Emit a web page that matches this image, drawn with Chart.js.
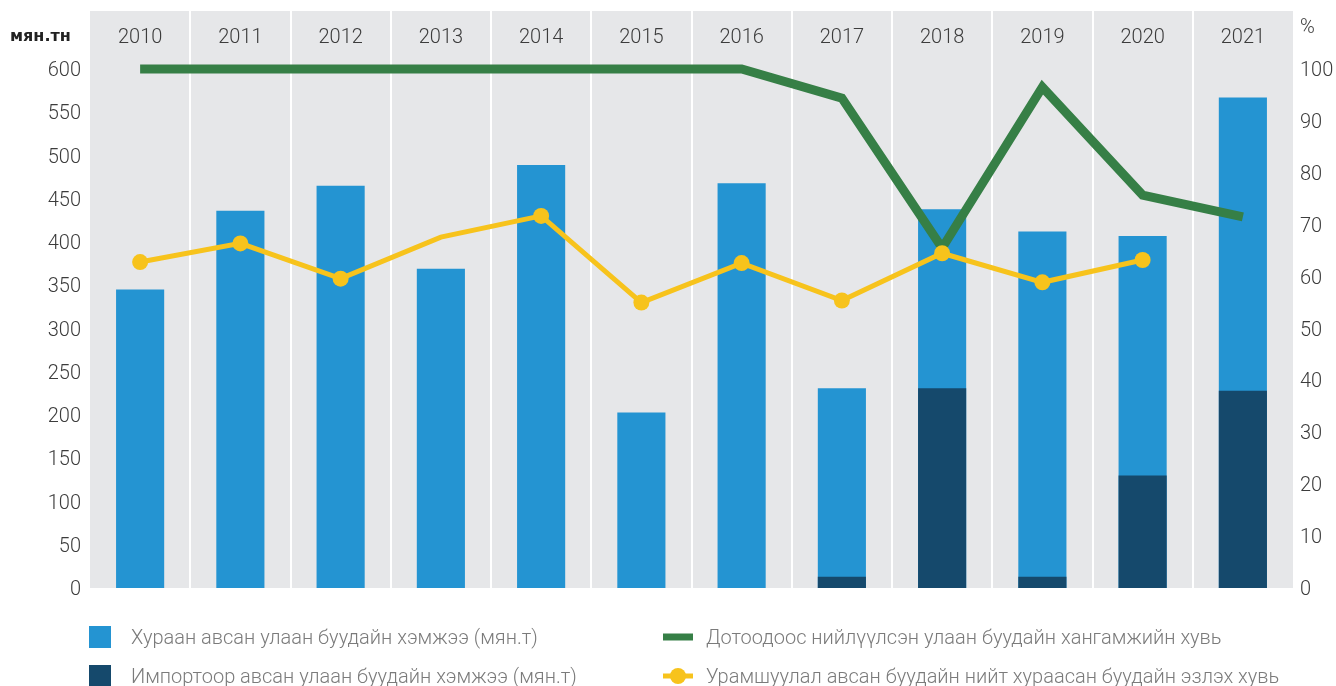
<!DOCTYPE html>
<html>
<head>
<meta charset="utf-8">
<script src="https://cdn.jsdelivr.net/npm/chart.js@4.4.1/dist/chart.umd.min.js"></script>
<style>
  html, body { margin: 0; padding: 0; background: #ffffff; }
  #wrap { position: relative; width: 1336px; height: 686px; }
</style>
</head>
<body>
<div id="wrap"><canvas id="c"></canvas></div>
<script>
// ---- data ----
const years = ['2010','2011','2012','2013','2014','2015','2016','2017','2018','2019','2020','2021'];
const harvestVolume = [345, 436, 465, 369, 489, 203, 468, 231, 438, 412, 407, 567];   // мян.т
const importVolume  = [0, 0, 0, 0, 0, 0, 0, 13, 231, 13, 130, 228];                   // мян.т
const domesticShare = [100, 100, 100, 100, 100, 100, 100, 94.4, 65.5, 96.5, 75.7, 71.5]; // %
const subsidyShare  = [62.8, 66.4, 59.6, 67.6, 71.7, 55.0, 62.6, 55.4, 64.5, 58.9, 63.2, null]; // %
const leftTicks  = [0, 50, 100, 150, 200, 250, 300, 350, 400, 450, 500, 550, 600];
const rightTicks = [0, 10, 20, 30, 40, 50, 60, 70, 80, 90, 100];
const leftUnit = 'мян.тн';
const rightUnit = '%';
const legendLabels = [
  'Хураан авсан улаан буудайн хэмжээ (мян.т)',
  'Импортоор авсан улаан буудайн хэмжээ (мян.т)',
  'Дотоодоос нийлүүлсэн улаан буудайн хангамжийн хувь',
  'Урамшуулал авсан буудайн нийт хураасан буудайн эзлэх хувь'
];

// ---- style ----
const C_BG = '#e6e7e9';
const C_BLUE = '#2494d2';
const C_NAVY = '#15496c';
const C_GREEN = '#367f46';
const C_YELLOW = '#f7c31c';
const C_TICK = '#3c3c3c';
const C_LEGEND = '#7b7b7b';
const FONT = 'Roboto';
const noMarkerYear = '2013';

const bgPlugin = {
  id: 'bgPlugin',
  beforeDraw(chart) {
    const ctx = chart.ctx, xs = chart.scales.x, ca = chart.chartArea;
    ctx.save();
    ctx.fillStyle = C_BG;
    ctx.fillRect(ca.left, xs.top, ca.right - ca.left, ca.bottom - xs.top);
    ctx.strokeStyle = '#ffffff';
    ctx.lineWidth = 2;
    for (let i = 1; i < years.length; i++) {
      const px = Math.round((xs.getPixelForValue(i - 1) + xs.getPixelForValue(i)) / 2);
      ctx.beginPath();
      ctx.moveTo(px, xs.top);
      ctx.lineTo(px, ca.bottom);
      ctx.stroke();
    }
    ctx.restore();
  },
  afterDraw(chart) {
    const ctx = chart.ctx;
    ctx.save();
    // unit labels
    ctx.fillStyle = '#222222';
    ctx.font = 'bold 16px "DejaVu Sans"';
    ctx.textAlign = 'left';
    ctx.textBaseline = 'alphabetic';
    ctx.fillText(leftUnit, 10, 41);
    ctx.fillStyle = C_TICK;
    ctx.font = '300 20px ' + FONT;
    ctx.textBaseline = 'middle';
    ctx.fillText(rightUnit, 1300, 28);

    // legend
    const rowY = [637, 676];
    const col1 = 89, col2 = 663;
    ctx.fillStyle = C_BLUE;
    ctx.fillRect(col1, rowY[0] - 11, 22, 22);
    ctx.fillStyle = C_NAVY;
    ctx.fillRect(col1, rowY[1] - 11, 22, 22);

    ctx.strokeStyle = C_GREEN;
    ctx.lineWidth = 7;
    ctx.beginPath(); ctx.moveTo(col2, rowY[0]); ctx.lineTo(col2 + 30, rowY[0]); ctx.stroke();

    ctx.strokeStyle = C_YELLOW;
    ctx.lineWidth = 5;
    ctx.beginPath(); ctx.moveTo(col2, rowY[1]); ctx.lineTo(col2 + 30, rowY[1]); ctx.stroke();
    ctx.fillStyle = C_YELLOW;
    ctx.beginPath(); ctx.arc(col2 + 15, rowY[1], 8, 0, Math.PI * 2); ctx.fill();

    ctx.font = '300 20px ' + FONT;
    ctx.fillStyle = C_LEGEND;
    ctx.textBaseline = 'middle';
    ctx.fillText(legendLabels[0], 131, rowY[0] + 2);
    ctx.fillText(legendLabels[1], 131, rowY[1] + 2);
    ctx.fillText(legendLabels[2], 706, rowY[0] + 2);
    ctx.fillText(legendLabels[3], 706, rowY[1] + 2);
    ctx.restore();
  }
};

const tickFont = { family: FONT, size: 20, weight: 300 };

new Chart(document.getElementById('c'), {
  data: {
    labels: years,
    datasets: [
      {
        type: 'line', label: legendLabels[3], data: subsidyShare, yAxisID: 'y1', order: 0,
        borderColor: C_YELLOW, backgroundColor: C_YELLOW, borderWidth: 5,
        pointRadius: (c) => years[c.dataIndex] === noMarkerYear ? 0 : 8,
        pointHoverRadius: 8, pointBorderWidth: 0, pointBackgroundColor: C_YELLOW,
        tension: 0, clip: false
      },
      {
        type: 'line', label: legendLabels[2], data: domesticShare, yAxisID: 'y1', order: 1,
        borderColor: C_GREEN, backgroundColor: C_GREEN, borderWidth: 9,
        pointRadius: 0, pointHoverRadius: 0, tension: 0, clip: false,
        borderJoinStyle: 'miter', borderCapStyle: 'butt'
      },
      {
        type: 'bar', label: legendLabels[1], data: importVolume, yAxisID: 'y', order: 2,
        backgroundColor: C_NAVY, grouped: false, barPercentage: 0.48, categoryPercentage: 1
      },
      {
        type: 'bar', label: legendLabels[0], data: harvestVolume, yAxisID: 'y', order: 3,
        backgroundColor: C_BLUE, grouped: false, barPercentage: 0.48, categoryPercentage: 1
      }
    ]
  },
  options: {
    responsive: true,
    maintainAspectRatio: false,
    animation: false,
    layout: { padding: { top: 11, bottom: 98, left: 0, right: 0 } },
    plugins: { legend: { display: false }, tooltip: { enabled: false } },
    scales: {
      x: {
        position: 'top',
        grid: { display: false, drawTicks: false }, border: { display: false },
        ticks: { font: tickFont, color: C_TICK, padding: 19, maxRotation: 0 },
        afterFit: (s) => { s.height = 58; }
      },
      y: {
        position: 'left', min: 0, max: 600,
        grid: { display: false, drawTicks: false }, border: { display: false },
        ticks: { font: tickFont, color: C_TICK, padding: 9, labelOffset: 2 },
        afterBuildTicks: (s) => { s.ticks = leftTicks.map(v => ({ value: v })); },
        afterFit: (s) => { s.width = 90; }
      },
      y1: {
        position: 'right', min: 0, max: 100,
        grid: { display: false, drawTicks: false }, border: { display: false },
        ticks: { font: tickFont, color: C_TICK, padding: 7, labelOffset: 2 },
        afterBuildTicks: (s) => { s.ticks = rightTicks.map(v => ({ value: v })); },
        afterFit: (s) => { s.width = 43; }
      }
    }
  },
  plugins: [bgPlugin]
});
</script>
</body>
</html>
